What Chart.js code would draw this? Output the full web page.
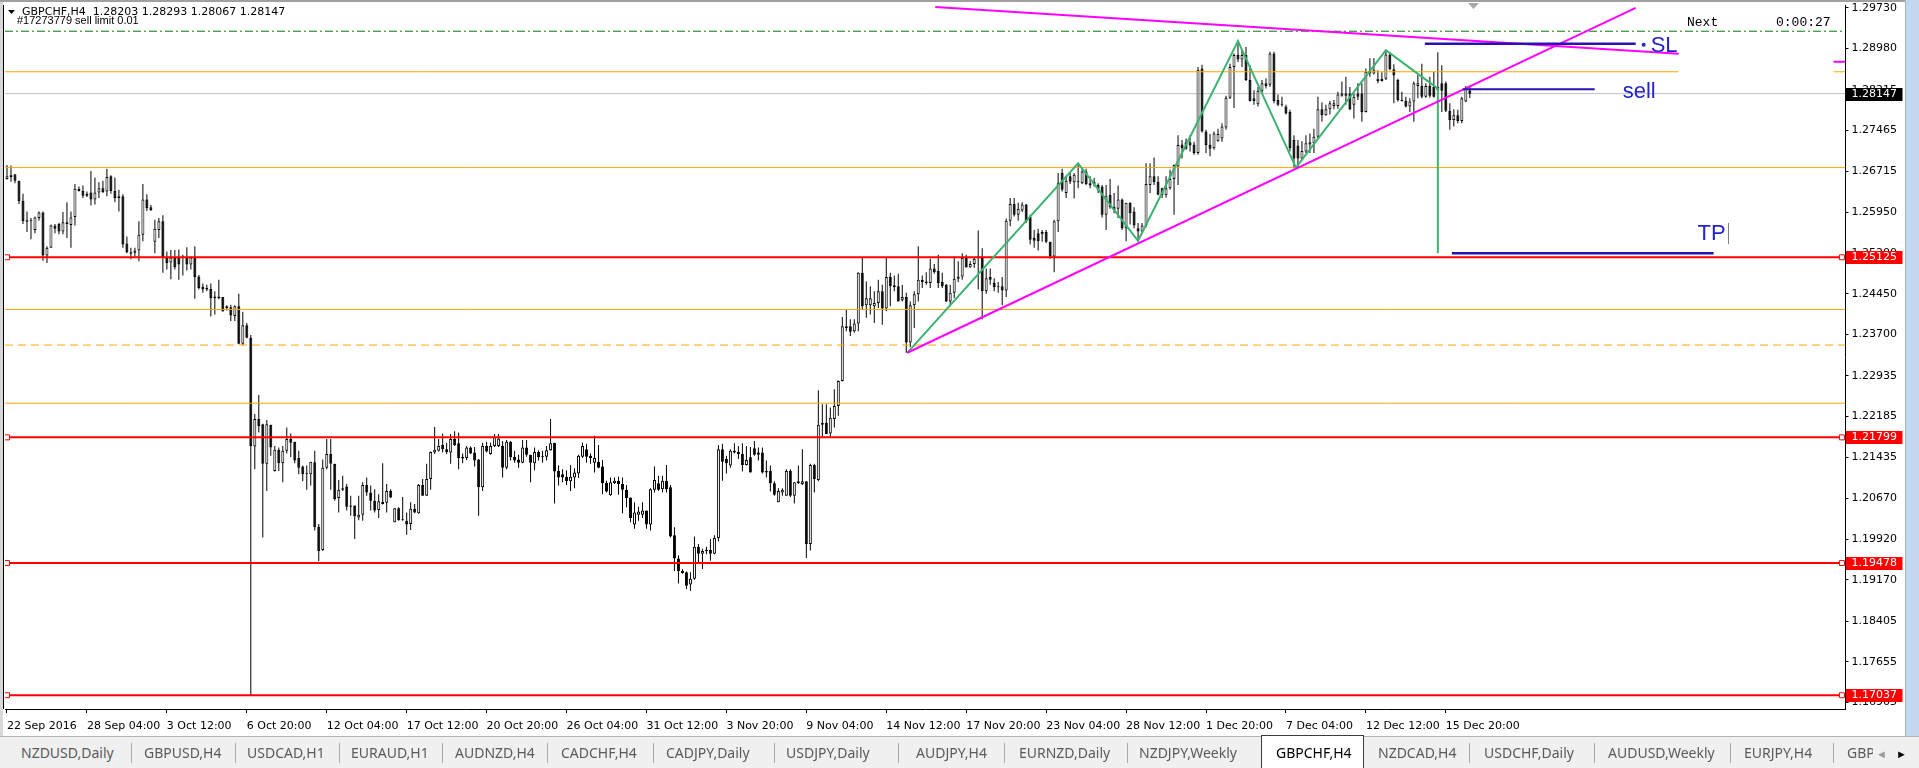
<!DOCTYPE html>
<html lang="en">
<head>
<meta charset="UTF-8">
<title>GBPCHF,H4</title>
<script src="https://cdn.jsdelivr.net/npm/chart.js"></script>
<style>
  html, body { margin: 0; padding: 0; width: 1919px; height: 768px; overflow: hidden; background: #f0f0f0; }
  #chartBox { position: absolute; left: 0; top: 0; width: 1905px; height: 736px; background: #fff; }
  #strip { position: absolute; left: 1905px; top: 0; width: 14px; height: 738px; background: #c3d8ee; border-left: 1px solid #9fb4c8; box-sizing: border-box; }
  #tabs { position: absolute; left: 0; top: 736px; width: 1919px; height: 32px; background: #f0f0f0; border-top: 1px solid #b4b4b4; box-sizing: border-box; font-family: 'Noto Sans', sans-serif; font-size: 14px; color: #5a5a5a; }
  .tab { position: absolute; top: 6px; white-space: nowrap; }
  .sep { position: absolute; top: 6px; width: 1px; height: 20px; background: #a8a8a8; }
  #active { position: absolute; left: 1261px; top: -2px; width: 103px; height: 34px; background: #fff; border: 1px solid #3c3c3c; border-bottom: none; box-sizing: border-box; }
</style>
</head>
<body>
<div id="chartBox"><canvas id="chart" width="1905" height="736"></canvas></div>
<div id="strip"></div>
<div id="tabs"><div id="active"></div></div>
<script>
// H4 candles, 22 Sep 20:00 .. 16 Dec 2016 (one entry per bar)
const open = [
  1.2657,1.2661,1.2666,1.2654,1.2617,1.2581,1.2579,1.2563,1.2585,1.2595,
  1.2516,1.2530,1.2571,1.2574,1.2560,1.2577,1.2572,1.2587,1.2639,1.2635,
  1.2626,1.2632,1.2619,1.2632,1.2640,1.2634,1.2662,1.2635,1.2625,1.2625,
  1.2538,1.2522,1.2521,1.2525,1.2554,1.2619,1.2605,1.2541,1.2563,1.2579,
  1.2512,1.2503,1.2512,1.2512,1.2512,1.2512,1.2499,1.2512,1.2477,1.2458,
  1.2456,1.2454,1.2440,1.2440,1.2439,1.2422,1.2420,1.2404,1.2422,1.2353,
  1.2387,1.2364,1.2163,1.2214,1.2204,1.2131,1.2203,1.2118,1.2157,1.2132,
  1.2155,1.2177,1.2172,1.2142,1.2126,1.2112,1.2112,1.2134,1.2015,1.1972,
  1.2124,1.2149,1.2131,1.2068,1.2083,1.2089,1.2054,1.2054,1.2032,1.2037,
  1.2092,1.2078,1.2063,1.2046,1.2061,1.2059,1.2081,1.2023,1.2049,1.2027,
  1.2026,1.2020,1.2048,1.2040,1.2092,1.2072,1.2103,1.2152,1.2155,1.2166,
  1.2158,1.2152,1.2177,1.2169,1.2144,1.2142,1.2161,1.2152,1.2139,1.2088,
  1.2164,1.2149,1.2164,1.2164,1.2164,1.2124,1.2172,1.2144,1.2139,1.2133,
  1.2161,1.2148,1.2132,1.2153,1.2143,1.2144,1.2156,1.2170,1.2118,1.2112,
  1.2107,1.2099,1.2106,1.2113,1.2144,1.2158,1.2146,1.2133,1.2135,1.2126,
  1.2096,1.2073,1.2095,1.2100,1.2094,1.2083,1.2069,1.2019,1.2037,1.2037,
  1.2045,1.2019,1.2083,1.2095,1.2084,1.2100,1.2088,1.1999,1.1956,1.1933,
  1.1931,1.1908,1.1919,1.1978,1.1965,1.1972,1.1972,1.1965,1.1994,1.2158,
  1.2140,1.2128,1.2155,1.2153,1.2149,1.2129,1.2143,1.2160,1.2152,1.2152,
  1.2118,1.2118,1.2095,1.2060,1.2078,1.2072,1.2118,1.2072,1.2095,1.2094,
  1.2099,1.1983,1.2129,1.2101,1.2203,1.2207,1.2187,1.2214,1.2238,1.2284,
  1.2382,1.2385,1.2376,1.2390,1.2484,1.2424,1.2424,1.2422,1.2428,1.2450,
  1.2418,1.2476,1.2461,1.2459,1.2433,1.2439,1.2355,1.2424,1.2444,1.2471,
  1.2468,1.2465,1.2492,1.2487,1.2467,1.2462,1.2431,1.2447,1.2473,1.2477,
  1.2511,1.2494,1.2500,1.2514,1.2511,1.2450,1.2476,1.2465,1.2457,1.2459,
  1.2451,1.2580,1.2611,1.2591,1.2599,1.2610,1.2588,1.2548,1.2557,1.2555,
  1.2559,1.2541,1.2514,1.2579,1.2668,1.2631,1.2662,1.2651,1.2651,1.2649,
  1.2671,1.2649,1.2652,1.2646,1.2643,1.2591,1.2628,1.2606,1.2602,1.2619,
  1.2566,1.2613,1.2597,1.2566,1.2560,1.2571,1.2646,1.2662,1.2652,1.2640,
  1.2627,1.2640,1.2657,1.2680,1.2721,1.2725,1.2725,1.2721,1.2705,1.2861,
  1.2745,1.2720,1.2714,1.2727,1.2732,1.2752,1.2807,1.2864,1.2886,1.2878,
  1.2886,1.2840,1.2806,1.2795,1.2820,1.2834,1.2831,1.2889,1.2803,1.2794,
  1.2791,1.2781,1.2729,1.2719,1.2695,1.2708,1.2721,1.2723,1.2735,1.2786,
  1.2775,1.2786,1.2792,1.2792,1.2811,1.2811,1.2815,1.2794,1.2815,1.2815,
  1.2781,1.2852,1.2852,1.2838,1.2842,1.2842,1.2887,1.2860,1.2840,1.2803,
  1.2801,1.2791,1.2800,1.2829,1.2829,1.2809,1.2829,1.2827,1.2821,1.2834,
  1.2834,1.2783,1.2766,1.2775,1.2764,1.2800,1.28203
];
const high = [
  1.2683,1.2682,1.2666,1.2654,1.2630,1.2597,1.2585,1.2588,1.2597,1.2597,
  1.2533,1.2573,1.2574,1.2576,1.2596,1.2614,1.2597,1.2648,1.2643,1.2645,
  1.2634,1.2672,1.2660,1.2651,1.2654,1.2676,1.2664,1.2660,1.2637,1.2629,
  1.2551,1.2530,1.2530,1.2579,1.2648,1.2629,1.2609,1.2582,1.2585,1.2590,
  1.2523,1.2526,1.2526,1.2527,1.2517,1.2531,1.2514,1.2533,1.2480,1.2464,
  1.2462,1.2464,1.2450,1.2471,1.2439,1.2424,1.2425,1.2424,1.2445,1.2412,
  1.2391,1.2369,1.2223,1.2258,1.2205,1.2212,1.2203,1.2164,1.2161,1.2164,
  1.2198,1.2187,1.2172,1.2155,1.2128,1.2128,1.2135,1.2155,1.2020,1.2139,
  1.2177,1.2177,1.2131,1.2101,1.2109,1.2094,1.2072,1.2054,1.2072,1.2097,
  1.2106,1.2091,1.2084,1.2075,1.2132,1.2094,1.2084,1.2049,1.2051,1.2070,
  1.2041,1.2060,1.2057,1.2094,1.2103,1.2131,1.2154,1.2199,1.2177,1.2187,
  1.2170,1.2186,1.2191,1.2189,1.2150,1.2164,1.2163,1.2162,1.2140,1.2170,
  1.2172,1.2170,1.2186,1.2186,1.2173,1.2175,1.2173,1.2155,1.2148,1.2175,
  1.2175,1.2148,1.2161,1.2156,1.2155,1.2164,1.2214,1.2170,1.2128,1.2121,
  1.2119,1.2129,1.2123,1.2148,1.2170,1.2168,1.2150,1.2183,1.2166,1.2138,
  1.2100,1.2106,1.2106,1.2107,1.2106,1.2092,1.2069,1.2060,1.2052,1.2060,
  1.2045,1.2086,1.2126,1.2109,1.2109,1.2129,1.2092,1.2014,1.1962,1.1937,
  1.1932,1.1931,1.1997,1.1983,1.1974,1.1978,1.1992,1.1999,1.2166,1.2168,
  1.2146,1.2158,1.2169,1.2164,1.2169,1.2164,1.2162,1.2173,1.2161,1.2161,
  1.2137,1.2128,1.2099,1.2086,1.2086,1.2121,1.2121,1.2097,1.2128,1.2158,
  1.2099,1.2131,1.2131,1.2267,1.2241,1.2241,1.2235,1.2269,1.2285,1.2402,
  1.2416,1.2398,1.2398,1.2485,1.2512,1.2468,1.2459,1.2450,1.2471,1.2462,
  1.2511,1.2484,1.2479,1.2482,1.2462,1.2447,1.2431,1.2450,1.2533,1.2479,
  1.2485,1.2510,1.2500,1.2517,1.2484,1.2463,1.2462,1.2514,1.2505,1.2520,
  1.2517,1.2505,1.2512,1.2562,1.2529,1.2492,1.2492,1.2474,1.2467,1.2476,
  1.2584,1.2622,1.2622,1.2613,1.2614,1.2611,1.2591,1.2563,1.2565,1.2563,
  1.2563,1.2541,1.2582,1.2668,1.2676,1.2662,1.2668,1.2668,1.2686,1.2677,
  1.2676,1.2662,1.2659,1.2649,1.2646,1.2646,1.2657,1.2631,1.2645,1.2621,
  1.2613,1.2614,1.2605,1.2576,1.2576,1.2686,1.2686,1.2697,1.2662,1.2641,
  1.2662,1.2674,1.2684,1.2738,1.2729,1.2732,1.2738,1.2726,1.2864,1.2868,
  1.2748,1.2740,1.2745,1.2750,1.2760,1.2811,1.2870,1.2889,1.2912,1.2895,
  1.2901,1.2867,1.2821,1.2827,1.2840,1.2843,1.2892,1.2892,1.2813,1.2809,
  1.2794,1.2785,1.2738,1.2729,1.2727,1.2738,1.2741,1.2750,1.2809,1.2799,
  1.2794,1.2801,1.2803,1.2818,1.2837,1.2846,1.2827,1.2815,1.2834,1.2834,
  1.2861,1.2880,1.2880,1.2858,1.2854,1.2895,1.2891,1.2869,1.2842,1.2818,
  1.2809,1.2806,1.2837,1.2849,1.2870,1.2834,1.2846,1.2855,1.2891,1.2867,
  1.2837,1.2797,1.2786,1.2785,1.2809,1.2829,1.28293
];
const low = [
  1.2656,1.2652,1.2649,1.2611,1.2574,1.2559,1.2546,1.2557,1.2580,1.2506,
  1.2502,1.2530,1.2557,1.2555,1.2555,1.2548,1.2530,1.2571,1.2634,1.2622,
  1.2624,1.2608,1.2610,1.2622,1.2631,1.2625,1.2630,1.2614,1.2597,1.2530,
  1.2520,1.2509,1.2514,1.2505,1.2542,1.2598,1.2598,1.2520,1.2548,1.2484,
  1.2490,1.2472,1.2490,1.2471,1.2479,1.2488,1.2490,1.2436,1.2453,1.2447,
  1.2450,1.2403,1.2407,1.2435,1.2412,1.2414,1.2395,1.2395,1.2352,1.2350,
  1.2363,1.1704,1.2121,1.2189,1.1995,1.2081,1.2146,1.2117,1.2118,1.2097,
  1.2150,1.2143,1.2132,1.2112,1.2099,1.2083,1.2091,1.2008,1.1951,1.1970,
  1.2121,1.2083,1.2063,1.2041,1.2081,1.2045,1.2035,1.1992,1.2027,1.2026,
  1.2072,1.2045,1.2041,1.2031,1.2056,1.2041,1.2068,1.2023,1.2026,1.2026,
  1.2000,1.2009,1.2040,1.2039,1.2072,1.2072,1.2083,1.2149,1.2154,1.2152,
  1.2149,1.2131,1.2164,1.2121,1.2132,1.2138,1.2149,1.2126,1.2035,1.2081,
  1.2152,1.2148,1.2162,1.2162,1.2106,1.2121,1.2137,1.2133,1.2124,1.2132,
  1.2144,1.2097,1.2119,1.2137,1.2133,1.2137,1.2155,1.2058,1.2091,1.2097,
  1.2092,1.2081,1.2086,1.2105,1.2142,1.2133,1.2131,1.2115,1.2123,1.2075,
  1.2078,1.2072,1.2094,1.2074,1.2040,1.2051,1.2023,1.2011,1.2026,1.2031,
  1.2011,1.2008,1.2078,1.2081,1.2078,1.2078,1.1995,1.1933,1.1910,1.1928,
  1.1900,1.1896,1.1917,1.1948,1.1937,1.1964,1.1952,1.1964,1.1988,1.2100,
  1.2113,1.2124,1.2150,1.2140,1.2117,1.2128,1.2115,1.2146,1.2137,1.2113,
  1.2106,1.2080,1.2072,1.2060,1.2072,1.2072,1.2070,1.2058,1.2094,1.2092,
  1.1957,1.1971,1.2078,1.2099,1.2181,1.2186,1.2181,1.2198,1.2220,1.2283,
  1.2376,1.2367,1.2373,1.2376,1.2416,1.2401,1.2407,1.2391,1.2419,1.2388,
  1.2413,1.2422,1.2450,1.2431,1.2431,1.2336,1.2347,1.2382,1.2431,1.2456,
  1.2462,1.2456,1.2482,1.2456,1.2456,1.2430,1.2422,1.2437,1.2467,1.2471,
  1.2493,1.2493,1.2493,1.2453,1.2398,1.2445,1.2462,1.2450,1.2447,1.2424,
  1.2439,1.2570,1.2588,1.2580,1.2596,1.2576,1.2536,1.2530,1.2525,1.2541,
  1.2539,1.2510,1.2485,1.2559,1.2634,1.2622,1.2648,1.2621,1.2640,1.2648,
  1.2646,1.2640,1.2643,1.2631,1.2586,1.2563,1.2602,1.2594,1.2585,1.2563,
  1.2542,1.2573,1.2566,1.2543,1.2559,1.2568,1.2631,1.2646,1.2627,1.2622,
  1.2623,1.2637,1.2591,1.2646,1.2695,1.2711,1.2708,1.2702,1.2702,1.2743,
  1.2705,1.2699,1.2711,1.2726,1.2726,1.2748,1.2805,1.2788,1.2873,1.2864,
  1.2838,1.2800,1.2794,1.2791,1.2815,1.2824,1.2827,1.2797,1.2792,1.2791,
  1.2776,1.2708,1.2677,1.2678,1.2694,1.2705,1.2705,1.2705,1.2732,1.2763,
  1.2774,1.2776,1.2786,1.2787,1.2809,1.2794,1.2784,1.2769,1.2803,1.2763,
  1.2780,1.2846,1.2850,1.2834,1.2837,1.2840,1.2858,1.2797,1.2800,1.2800,
  1.2789,1.2781,1.2763,1.2806,1.2806,1.2807,1.2807,1.2807,1.2818,1.2781,
  1.2781,1.2748,1.2754,1.2760,1.2760,1.2799,1.28067
];
const close = [
  1.2662,1.2665,1.2654,1.2616,1.2579,1.2578,1.2579,1.2586,1.2595,1.2516,
  1.2530,1.2571,1.2565,1.2560,1.2577,1.2574,1.2586,1.2639,1.2635,1.2626,
  1.2630,1.2619,1.2632,1.2640,1.2633,1.2661,1.2635,1.2622,1.2622,1.2536,
  1.2522,1.2519,1.2525,1.2554,1.2619,1.2603,1.2600,1.2565,1.2579,1.2512,
  1.2502,1.2512,1.2494,1.2499,1.2512,1.2499,1.2512,1.2476,1.2456,1.2453,
  1.2453,1.2437,1.2437,1.2437,1.2413,1.2419,1.2405,1.2422,1.2353,1.2387,
  1.2364,1.2164,1.2214,1.2201,1.2131,1.2204,1.2161,1.2157,1.2132,1.2155,
  1.2177,1.2170,1.2137,1.2124,1.2112,1.2112,1.2135,1.2014,1.1970,1.2124,
  1.2149,1.2131,1.2066,1.2083,1.2086,1.2052,1.2052,1.2034,1.2037,1.2092,
  1.2078,1.2063,1.2045,1.2062,1.2057,1.2081,1.2069,1.2049,1.2027,1.2027,
  1.2019,1.2048,1.2041,1.2092,1.2072,1.2103,1.2153,1.2157,1.2164,1.2158,
  1.2153,1.2177,1.2166,1.2142,1.2141,1.2161,1.2150,1.2137,1.2088,1.2164,
  1.2154,1.2164,1.2181,1.2178,1.2124,1.2172,1.2143,1.2137,1.2133,1.2161,
  1.2148,1.2133,1.2153,1.2143,1.2143,1.2156,1.2169,1.2117,1.2106,1.2106,
  1.2099,1.2107,1.2115,1.2146,1.2164,1.2144,1.2142,1.2142,1.2124,1.2095,
  1.2080,1.2097,1.2100,1.2094,1.2083,1.2068,1.2031,1.2041,1.2043,1.2045,
  1.2019,1.2084,1.2101,1.2083,1.2100,1.2084,1.1997,1.1956,1.1933,1.1929,
  1.1906,1.1919,1.1978,1.1965,1.1970,1.1970,1.1965,1.1994,1.2158,1.2135,
  1.2132,1.2155,1.2152,1.2149,1.2129,1.2138,1.2115,1.2148,1.2148,1.2115,
  1.2115,1.2095,1.2074,1.2081,1.2083,1.2118,1.2072,1.2097,1.2099,1.2099,
  1.1983,1.2129,1.2103,1.2203,1.2207,1.2186,1.2216,1.2238,1.2284,1.2385,
  1.2385,1.2375,1.2390,1.2484,1.2422,1.2437,1.2437,1.2428,1.2450,1.2418,
  1.2476,1.2459,1.2457,1.2431,1.2439,1.2355,1.2424,1.2444,1.2471,1.2467,
  1.2465,1.2492,1.2485,1.2465,1.2459,1.2431,1.2447,1.2473,1.2477,1.2511,
  1.2494,1.2500,1.2510,1.2511,1.2450,1.2474,1.2471,1.2457,1.2457,1.2451,
  1.2580,1.2611,1.2591,1.2602,1.2610,1.2579,1.2545,1.2543,1.2542,1.2559,
  1.2541,1.2514,1.2579,1.2649,1.2637,1.2654,1.2652,1.2665,1.2651,1.2671,
  1.2648,1.2645,1.2648,1.2637,1.2591,1.2625,1.2605,1.2600,1.2619,1.2566,
  1.2613,1.2594,1.2571,1.2560,1.2571,1.2648,1.2662,1.2651,1.2628,1.2627,
  1.2640,1.2657,1.2683,1.2720,1.2714,1.2713,1.2719,1.2705,1.2859,1.2745,
  1.2720,1.2713,1.2741,1.2740,1.2754,1.2807,1.2864,1.2886,1.2878,1.2886,
  1.2840,1.2801,1.2801,1.2820,1.2834,1.2829,1.2889,1.2801,1.2794,1.2794,
  1.2778,1.2714,1.2695,1.2695,1.2709,1.2723,1.2725,1.2735,1.2786,1.2775,
  1.2786,1.2797,1.2797,1.2813,1.2815,1.2815,1.2786,1.2809,1.2809,1.2781,
  1.2855,1.2856,1.2858,1.2842,1.2838,1.2887,1.2860,1.2848,1.2803,1.2801,
  1.2791,1.2800,1.2834,1.2834,1.2809,1.2829,1.2811,1.2809,1.2827,1.2820,
  1.2783,1.2766,1.2775,1.2764,1.2806,1.2824,1.28147
];

// time axis: a label every 20 bars
const tickBars = [0,20,40,60,80,100,120,140,160,180,200,220,240,260,280,300,320,340,360];
const tickLabels = ['22 Sep 2016','28 Sep 04:00','3 Oct 12:00','6 Oct 20:00','12 Oct 04:00','17 Oct 12:00',
  '20 Oct 20:00','26 Oct 04:00','31 Oct 12:00','3 Nov 20:00','9 Nov 04:00','14 Nov 12:00','17 Nov 20:00',
  '23 Nov 04:00','28 Nov 12:00','1 Dec 20:00','7 Dec 04:00','12 Dec 12:00','15 Dec 20:00'];
const priceTicks = [1.29730,1.28980,1.28215,1.27465,1.26715,1.25950,1.25200,1.24450,1.23700,1.22935,
  1.22185,1.21435,1.20670,1.19920,1.19170,1.18405,1.17655,1.16905];

// drawn objects
const redLevels = [1.25125, 1.21799, 1.19478, 1.17037];
const orangeLevels = [1.26782, 1.24161, 1.22430];
const orangeDashed = 1.23504;
const orangeTop = 1.28551;
const magentaStub = 1.28735;
const bidPrice = 1.28147;
const sellLimit = 1.29300;
const slPrice = 1.29070, sellPrice = 1.28228, tpPrice = 1.25200;
const zigzagX = [225.25, 268, 283, 308, 322.5, 345, 358, 358];
const zigzagY = [1.2336, 1.2686, 1.2543, 1.2912, 1.2678, 1.2895, 1.2824, 1.2520];
const trendDown = [[232.25, 1.29748], [418.25, 1.28882]];
const trendUp = [[225.25, 1.23362], [407.5, 1.29730]];

const tabNames = ['NZDUSD,Daily','GBPUSD,H4','USDCAD,H1','EURAUD,H1','AUDNZD,H4','CADCHF,H4','CADJPY,Daily',
  'USDJPY,Daily','AUDJPY,H4','EURNZD,Daily','NZDJPY,Weekly','GBPCHF,H4','NZDCAD,H4','USDCHF,Daily',
  'AUDUSD,Weekly','EURJPY,H4','GBP'];
const tabLeft = [21,144,247,351,455,561,666,786,916,1019,1139,1276,1378,1484,1608,1744,1847];
const tabSeps = [131,235,339,442,547,653,774,898,1004,1127,1469,1594,1730,1833];

// tab bar
const tabs = document.getElementById('tabs');
tabNames.forEach((t, i) => {
  const d = document.createElement('div');
  d.className = 'tab';
  d.textContent = t;
  d.style.left = tabLeft[i] + 'px';
  if (t === 'GBPCHF,H4') { d.style.color = '#000'; }
  if (t === 'GBP') { d.style.width = '26px'; d.style.overflow = 'hidden'; }
  tabs.appendChild(d);
});
tabSeps.forEach(x => {
  const s = document.createElement('div');
  s.className = 'sep';
  s.style.left = x + 'px';
  tabs.appendChild(s);
});
[['\u25C4', 1876, '#9a9a9a'], ['\u25BA', 1896, '#000']].forEach(a => {
  const d = document.createElement('div');
  d.className = 'tab';
  d.textContent = a[0];
  d.style.left = a[1] + 'px';
  d.style.color = a[2];
  d.style.fontSize = '11px';
  d.style.top = '9px';
  tabs.appendChild(d);
});

const X0 = -0.5, X1 = 460;
function hline(p, color, width, dash, from, to, order) {
  return {
    type: 'line',
    data: [{ x: from === undefined ? X0 : from, y: p }, { x: to === undefined ? X1 : to, y: p }],
    borderColor: color, borderWidth: width, borderDash: dash || [],
    pointRadius: 0, fill: false, tension: 0, order: order === undefined ? 3 : order
  };
}
function segment(pts, color, width, order) {
  return {
    type: 'line',
    data: pts.map(p => ({ x: p[0], y: p[1] })),
    borderColor: color, borderWidth: width, pointRadius: 0, fill: false, tension: 0, order: order
  };
}

const bodies = open.map((o, i) => ({ x: i, y: [o, close[i]] }));
const wicks = low.map((l, i) => ({ x: i, y: [l, high[i]] }));
const bodyColors = open.map((o, i) => close[i] > o ? '#ffffff' : '#000000');

const datasets = [
  {
    type: 'bar', data: bodies, backgroundColor: bodyColors, borderColor: '#000', borderWidth: 1,
    borderSkipped: false, barThickness: 3, grouped: false, minBarLength: 1, inflateAmount: 0, order: 10
  },
  {
    type: 'bar', data: wicks, backgroundColor: '#000', borderWidth: 0,
    barThickness: 1, grouped: false, inflateAmount: 0, order: 11
  },
  hline(bidPrice, '#c0c0c0', 1, null, X0, X1, 12),
  hline(sellLimit, '#008000', 1, [8, 3, 2, 3]),
  ...orangeLevels.map(p => hline(p, '#ffa500', 1)),
  hline(orangeDashed, '#ffa500', 1, [8, 5]),
  hline(orangeTop, '#ffa500', 1, null, X0, 418.25),
  hline(orangeTop, '#ffa500', 1, null, 457, X1),
  hline(magentaStub, '#ff00ff', 2, null, 457, X1),
  ...redLevels.map(p => hline(p, '#ff0000', 2)),
  {
    type: 'line', showLine: false,
    data: redLevels.flatMap(p => [{ x: 0, y: p }, { x: 459.1, y: p }]),
    pointStyle: 'rect', pointRadius: 3.5, pointBorderWidth: 1,
    pointBorderColor: '#ff0000', pointBackgroundColor: '#ffffff', order: 2
  },
  segment(trendDown, '#ff00ff', 2, 1),
  segment(trendUp, '#ff00ff', 2, 1),
  segment(zigzagX.map((x, i) => [x, zigzagY[i]]), '#3cb371', 2, 1),
  hline(slPrice, '#2a12b0', 2.5, null, 354.75, 407.5, 0),
  hline(sellPrice, '#2a12b0', 2, null, 364.25, 397.25, 0),
  hline(tpPrice, '#2a12b0', 2.5, null, 361.5, 427, 0)
];

const mt4Overlay = {
  id: 'mt4Overlay',
  beforeDraw(chart) {
    const { ctx, width, height } = chart;
    ctx.save();
    ctx.fillStyle = '#ffffff';
    ctx.fillRect(0, 0, width, height);
    ctx.fillStyle = '#a0a0a0';
    ctx.fillRect(0, 0, width, 2);
    ctx.fillStyle = '#d8d8d8';
    ctx.fillRect(0, 2, 3, height - 2);
    ctx.restore();
  },
  afterDraw(chart) {
    const { ctx, chartArea: a, scales: { x, y } } = chart;
    ctx.save();
    // left frame
    ctx.strokeStyle = '#000';
    ctx.lineWidth = 1;
    ctx.beginPath();
    ctx.moveTo(3.5, a.top);
    ctx.lineTo(3.5, a.bottom);
    ctx.stroke();

    // price labels on the axis
    ctx.font = '11px "DejaVu Sans"';
    ctx.textBaseline = 'middle';
    ctx.textAlign = 'left';
    const box = (p, bg) => {
      const py = Math.round(y.getPixelForValue(p));
      ctx.fillStyle = bg;
      ctx.fillRect(a.right + 0.5, py - 6, 56.5, 13);
      ctx.fillStyle = '#fff';
      ctx.fillText(p.toFixed(5), a.right + 6, py + 0.5);
    };
    redLevels.forEach(p => box(p, '#ff0000'));
    box(bidPrice, '#000000');

    // chart shift marker
    ctx.fillStyle = '#a8a8a8';
    ctx.beginPath();
    ctx.moveTo(1468, 3);
    ctx.lineTo(1479, 3);
    ctx.lineTo(1473.5, 9);
    ctx.closePath();
    ctx.fill();

    // header
    ctx.fillStyle = '#000';
    ctx.beginPath();
    ctx.moveTo(8, 10);
    ctx.lineTo(15, 10);
    ctx.lineTo(11.5, 14);
    ctx.closePath();
    ctx.fill();
    ctx.font = '11px "DejaVu Sans"';
    ctx.fillText('GBPCHF,H4  1.28203 1.28293 1.28067 1.28147', 22, 12.5);
    ctx.font = '11px "Liberation Sans"';
    ctx.fillText('#17273779 sell limit 0.01', 17, 21);
    ctx.font = '13px "Liberation Mono"';
    ctx.fillText('Next', 1687, 23);
    ctx.fillText('0:00:27', 1776, 23);

    // order labels
    ctx.fillStyle = '#2424c8';
    ctx.font = '22px "Liberation Sans"';
    ctx.fillText('SL', x.getPixelForValue(411.25), y.getPixelForValue(1.29048) + 1);
    ctx.fillText('sell', x.getPixelForValue(404.25), y.getPixelForValue(1.28200) + 1);
    ctx.fillText('TP', x.getPixelForValue(423), y.getPixelForValue(1.25580) + 1);
    ctx.beginPath();
    ctx.arc(x.getPixelForValue(409.5), y.getPixelForValue(1.29048), 2, 0, Math.PI * 2);
    ctx.fill();
    ctx.strokeStyle = '#808080';
    ctx.beginPath();
    ctx.moveTo(1728.5, y.getPixelForValue(1.25760));
    ctx.lineTo(1728.5, y.getPixelForValue(1.25370));
    ctx.stroke();
    ctx.restore();
  }
};

new Chart(document.getElementById('chart'), {
  type: 'bar',
  data: { datasets: datasets },
  options: {
    responsive: false,
    devicePixelRatio: 1,
    animation: false,
    events: [],
    layout: { padding: { left: 3.5, top: 3, right: 0, bottom: 0 } },
    plugins: { legend: { display: false }, tooltip: { enabled: false } },
    scales: {
      x: {
        type: 'linear', min: X0, max: X1, offset: false,
        grid: { display: true, drawOnChartArea: false, drawTicks: true, tickLength: 4, color: '#000', offset: false },
        border: { display: true, color: '#000' },
        ticks: {
          autoSkip: false, maxRotation: 0, minRotation: 0, align: 'start', padding: 7, color: '#000',
          font: { family: 'DejaVu Sans', size: 11 },
          callback: v => { const k = tickBars.indexOf(v); return k < 0 ? null : tickLabels[k]; }
        },
        afterBuildTicks: s => { s.ticks = tickBars.map(v => ({ value: v })); },
        afterFit: s => { s.height = 27; s.paddingLeft = 0; s.paddingRight = 0; }
      },
      y: {
        type: 'linear', position: 'right', min: 1.167825, max: 1.297843,
        grid: { display: true, drawOnChartArea: false, drawTicks: true, tickLength: 3, color: '#000' },
        border: { display: true, color: '#000' },
        ticks: {
          padding: 3, color: '#000', font: { family: 'DejaVu Sans', size: 11 },
          callback: v => v.toFixed(5)
        },
        afterBuildTicks: s => { s.ticks = priceTicks.map(v => ({ value: v })); },
        afterFit: s => { s.width = 59.5; s.paddingTop = 0; s.paddingBottom = 0; }
      }
    }
  },
  plugins: [mt4Overlay]
});
</script>
</body>
</html>
